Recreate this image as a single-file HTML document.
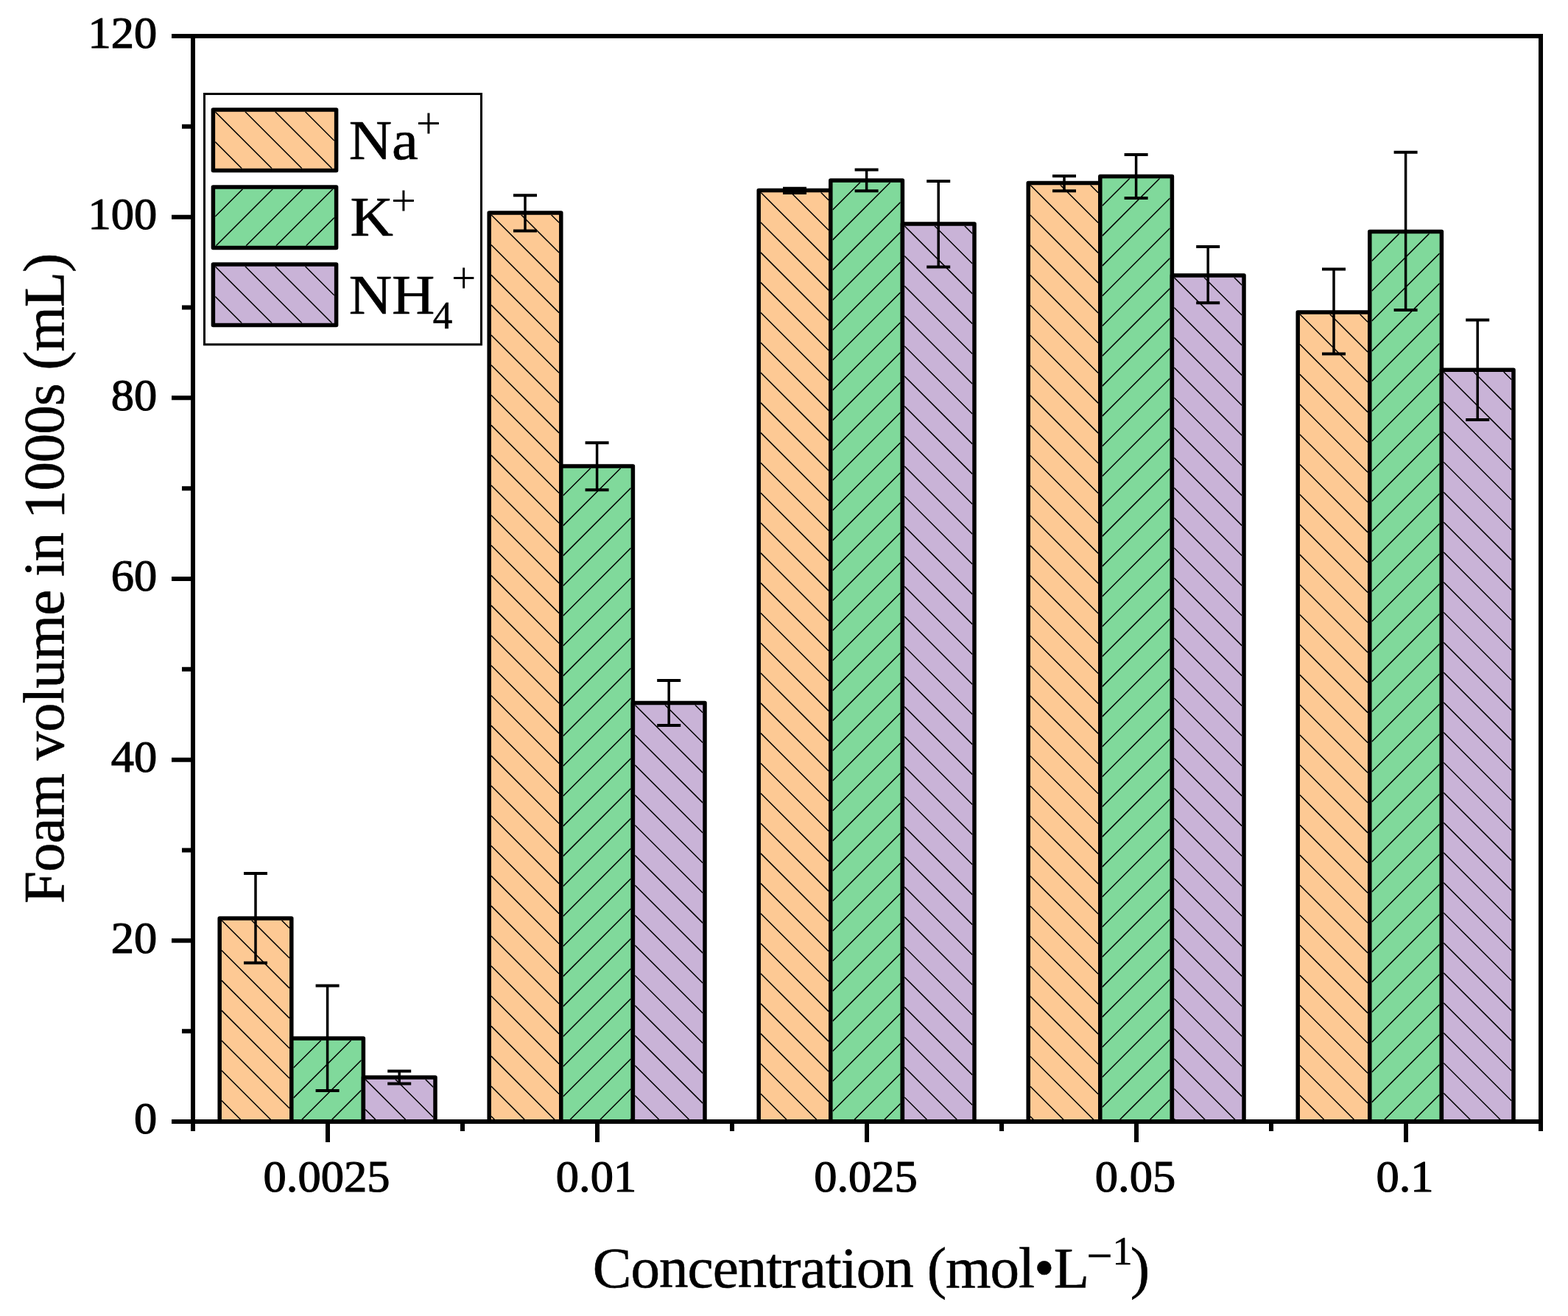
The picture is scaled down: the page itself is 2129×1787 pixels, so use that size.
<!DOCTYPE html>
<html><head><meta charset="utf-8"><title>Foam volume chart</title>
<style>html,body{margin:0;padding:0;background:#fff;overflow:hidden;width:2129px;height:1787px;}svg{display:block;}</style>
</head><body>
<svg width="2129" height="1787" viewBox="0 0 2129 1787">
<rect width="2129" height="1787" fill="#fff"/>
<rect x="298.20" y="1247.00" width="97.60" height="276.00" fill="#FDC994"/>
<clipPath id="c0"><rect x="300.95" y="1249.75" width="92.10" height="270.50"/></clipPath>
<path clip-path="url(#c0)" d="M300.95 1494.55L326.65 1520.25 M300.95 1453.75L367.45 1520.25 M300.95 1412.95L393.05 1505.05 M300.95 1372.15L393.05 1464.25 M300.95 1331.35L393.05 1423.45 M300.95 1290.55L393.05 1382.65 M300.95 1249.75L393.05 1341.85 M341.75 1249.75L393.05 1301.05 M382.55 1249.75L393.05 1260.25" stroke="#000" stroke-width="1.5" fill="none"/>
<rect x="298.20" y="1247.00" width="97.60" height="276.00" fill="none" stroke="#000" stroke-width="5.5" stroke-linejoin="round"/>
<rect x="395.80" y="1410.00" width="97.60" height="113.00" fill="#80D99B"/>
<clipPath id="c1"><rect x="398.55" y="1412.75" width="92.10" height="107.50"/></clipPath>
<path clip-path="url(#c1)" d="M435.85 1412.75L398.55 1450.05 M476.65 1412.75L398.55 1490.85 M490.65 1439.55L409.95 1520.25 M490.65 1480.35L450.75 1520.25" stroke="#000" stroke-width="1.5" fill="none"/>
<rect x="395.80" y="1410.00" width="97.60" height="113.00" fill="none" stroke="#000" stroke-width="5.5" stroke-linejoin="round"/>
<rect x="493.40" y="1463.00" width="97.60" height="60.00" fill="#C9B3D7"/>
<clipPath id="c2"><rect x="496.15" y="1465.75" width="92.10" height="54.50"/></clipPath>
<path clip-path="url(#c2)" d="M496.15 1506.55L509.85 1520.25 M496.15 1465.75L550.65 1520.25 M536.95 1465.75L588.25 1517.05 M577.75 1465.75L588.25 1476.25" stroke="#000" stroke-width="1.5" fill="none"/>
<rect x="493.40" y="1463.00" width="97.60" height="60.00" fill="none" stroke="#000" stroke-width="5.5" stroke-linejoin="round"/>
<rect x="664.20" y="289.00" width="97.60" height="1234.00" fill="#FDC994"/>
<clipPath id="c3"><rect x="666.95" y="291.75" width="92.10" height="1228.50"/></clipPath>
<path clip-path="url(#c3)" d="M666.95 1515.75L671.45 1520.25 M666.95 1474.95L712.25 1520.25 M666.95 1434.15L753.05 1520.25 M666.95 1393.35L759.05 1485.45 M666.95 1352.55L759.05 1444.65 M666.95 1311.75L759.05 1403.85 M666.95 1270.95L759.05 1363.05 M666.95 1230.15L759.05 1322.25 M666.95 1189.35L759.05 1281.45 M666.95 1148.55L759.05 1240.65 M666.95 1107.75L759.05 1199.85 M666.95 1066.95L759.05 1159.05 M666.95 1026.15L759.05 1118.25 M666.95 985.35L759.05 1077.45 M666.95 944.55L759.05 1036.65 M666.95 903.75L759.05 995.85 M666.95 862.95L759.05 955.05 M666.95 822.15L759.05 914.25 M666.95 781.35L759.05 873.45 M666.95 740.55L759.05 832.65 M666.95 699.75L759.05 791.85 M666.95 658.95L759.05 751.05 M666.95 618.15L759.05 710.25 M666.95 577.35L759.05 669.45 M666.95 536.55L759.05 628.65 M666.95 495.75L759.05 587.85 M666.95 454.95L759.05 547.05 M666.95 414.15L759.05 506.25 M666.95 373.35L759.05 465.45 M666.95 332.55L759.05 424.65 M666.95 291.75L759.05 383.85 M707.75 291.75L759.05 343.05 M748.55 291.75L759.05 302.25" stroke="#000" stroke-width="1.5" fill="none"/>
<rect x="664.20" y="289.00" width="97.60" height="1234.00" fill="none" stroke="#000" stroke-width="5.5" stroke-linejoin="round"/>
<rect x="761.80" y="633.00" width="97.60" height="890.00" fill="#80D99B"/>
<clipPath id="c4"><rect x="764.55" y="635.75" width="92.10" height="884.50"/></clipPath>
<path clip-path="url(#c4)" d="M801.85 635.75L764.55 673.05 M842.65 635.75L764.55 713.85 M856.65 662.55L764.55 754.65 M856.65 703.35L764.55 795.45 M856.65 744.15L764.55 836.25 M856.65 784.95L764.55 877.05 M856.65 825.75L764.55 917.85 M856.65 866.55L764.55 958.65 M856.65 907.35L764.55 999.45 M856.65 948.15L764.55 1040.25 M856.65 988.95L764.55 1081.05 M856.65 1029.75L764.55 1121.85 M856.65 1070.55L764.55 1162.65 M856.65 1111.35L764.55 1203.45 M856.65 1152.15L764.55 1244.25 M856.65 1192.95L764.55 1285.05 M856.65 1233.75L764.55 1325.85 M856.65 1274.55L764.55 1366.65 M856.65 1315.35L764.55 1407.45 M856.65 1356.15L764.55 1448.25 M856.65 1396.95L764.55 1489.05 M856.65 1437.75L774.15 1520.25 M856.65 1478.55L814.95 1520.25 M856.65 1519.35L855.75 1520.25" stroke="#000" stroke-width="1.5" fill="none"/>
<rect x="761.80" y="633.00" width="97.60" height="890.00" fill="none" stroke="#000" stroke-width="5.5" stroke-linejoin="round"/>
<rect x="859.40" y="954.50" width="97.60" height="568.50" fill="#C9B3D7"/>
<clipPath id="c5"><rect x="862.15" y="957.25" width="92.10" height="563.00"/></clipPath>
<path clip-path="url(#c5)" d="M862.15 1487.65L894.75 1520.25 M862.15 1446.85L935.55 1520.25 M862.15 1406.05L954.25 1498.15 M862.15 1365.25L954.25 1457.35 M862.15 1324.45L954.25 1416.55 M862.15 1283.65L954.25 1375.75 M862.15 1242.85L954.25 1334.95 M862.15 1202.05L954.25 1294.15 M862.15 1161.25L954.25 1253.35 M862.15 1120.45L954.25 1212.55 M862.15 1079.65L954.25 1171.75 M862.15 1038.85L954.25 1130.95 M862.15 998.05L954.25 1090.15 M862.15 957.25L954.25 1049.35 M902.95 957.25L954.25 1008.55 M943.75 957.25L954.25 967.75" stroke="#000" stroke-width="1.5" fill="none"/>
<rect x="859.40" y="954.50" width="97.60" height="568.50" fill="none" stroke="#000" stroke-width="5.5" stroke-linejoin="round"/>
<rect x="1030.20" y="258.50" width="97.60" height="1264.50" fill="#FDC994"/>
<clipPath id="c6"><rect x="1032.95" y="261.25" width="92.10" height="1259.00"/></clipPath>
<path clip-path="url(#c6)" d="M1032.95 1485.25L1067.95 1520.25 M1032.95 1444.45L1108.75 1520.25 M1032.95 1403.65L1125.05 1495.75 M1032.95 1362.85L1125.05 1454.95 M1032.95 1322.05L1125.05 1414.15 M1032.95 1281.25L1125.05 1373.35 M1032.95 1240.45L1125.05 1332.55 M1032.95 1199.65L1125.05 1291.75 M1032.95 1158.85L1125.05 1250.95 M1032.95 1118.05L1125.05 1210.15 M1032.95 1077.25L1125.05 1169.35 M1032.95 1036.45L1125.05 1128.55 M1032.95 995.65L1125.05 1087.75 M1032.95 954.85L1125.05 1046.95 M1032.95 914.05L1125.05 1006.15 M1032.95 873.25L1125.05 965.35 M1032.95 832.45L1125.05 924.55 M1032.95 791.65L1125.05 883.75 M1032.95 750.85L1125.05 842.95 M1032.95 710.05L1125.05 802.15 M1032.95 669.25L1125.05 761.35 M1032.95 628.45L1125.05 720.55 M1032.95 587.65L1125.05 679.75 M1032.95 546.85L1125.05 638.95 M1032.95 506.05L1125.05 598.15 M1032.95 465.25L1125.05 557.35 M1032.95 424.45L1125.05 516.55 M1032.95 383.65L1125.05 475.75 M1032.95 342.85L1125.05 434.95 M1032.95 302.05L1125.05 394.15 M1032.95 261.25L1125.05 353.35 M1073.75 261.25L1125.05 312.55 M1114.55 261.25L1125.05 271.75" stroke="#000" stroke-width="1.5" fill="none"/>
<rect x="1030.20" y="258.50" width="97.60" height="1264.50" fill="none" stroke="#000" stroke-width="5.5" stroke-linejoin="round"/>
<rect x="1127.80" y="245.00" width="97.60" height="1278.00" fill="#80D99B"/>
<clipPath id="c7"><rect x="1130.55" y="247.75" width="92.10" height="1272.50"/></clipPath>
<path clip-path="url(#c7)" d="M1167.85 247.75L1130.55 285.05 M1208.65 247.75L1130.55 325.85 M1222.65 274.55L1130.55 366.65 M1222.65 315.35L1130.55 407.45 M1222.65 356.15L1130.55 448.25 M1222.65 396.95L1130.55 489.05 M1222.65 437.75L1130.55 529.85 M1222.65 478.55L1130.55 570.65 M1222.65 519.35L1130.55 611.45 M1222.65 560.15L1130.55 652.25 M1222.65 600.95L1130.55 693.05 M1222.65 641.75L1130.55 733.85 M1222.65 682.55L1130.55 774.65 M1222.65 723.35L1130.55 815.45 M1222.65 764.15L1130.55 856.25 M1222.65 804.95L1130.55 897.05 M1222.65 845.75L1130.55 937.85 M1222.65 886.55L1130.55 978.65 M1222.65 927.35L1130.55 1019.45 M1222.65 968.15L1130.55 1060.25 M1222.65 1008.95L1130.55 1101.05 M1222.65 1049.75L1130.55 1141.85 M1222.65 1090.55L1130.55 1182.65 M1222.65 1131.35L1130.55 1223.45 M1222.65 1172.15L1130.55 1264.25 M1222.65 1212.95L1130.55 1305.05 M1222.65 1253.75L1130.55 1345.85 M1222.65 1294.55L1130.55 1386.65 M1222.65 1335.35L1130.55 1427.45 M1222.65 1376.15L1130.55 1468.25 M1222.65 1416.95L1130.55 1509.05 M1222.65 1457.75L1160.15 1520.25 M1222.65 1498.55L1200.95 1520.25" stroke="#000" stroke-width="1.5" fill="none"/>
<rect x="1127.80" y="245.00" width="97.60" height="1278.00" fill="none" stroke="#000" stroke-width="5.5" stroke-linejoin="round"/>
<rect x="1225.40" y="304.00" width="97.60" height="1219.00" fill="#C9B3D7"/>
<clipPath id="c8"><rect x="1228.15" y="306.75" width="92.10" height="1213.50"/></clipPath>
<path clip-path="url(#c8)" d="M1228.15 1489.95L1258.45 1520.25 M1228.15 1449.15L1299.25 1520.25 M1228.15 1408.35L1320.25 1500.45 M1228.15 1367.55L1320.25 1459.65 M1228.15 1326.75L1320.25 1418.85 M1228.15 1285.95L1320.25 1378.05 M1228.15 1245.15L1320.25 1337.25 M1228.15 1204.35L1320.25 1296.45 M1228.15 1163.55L1320.25 1255.65 M1228.15 1122.75L1320.25 1214.85 M1228.15 1081.95L1320.25 1174.05 M1228.15 1041.15L1320.25 1133.25 M1228.15 1000.35L1320.25 1092.45 M1228.15 959.55L1320.25 1051.65 M1228.15 918.75L1320.25 1010.85 M1228.15 877.95L1320.25 970.05 M1228.15 837.15L1320.25 929.25 M1228.15 796.35L1320.25 888.45 M1228.15 755.55L1320.25 847.65 M1228.15 714.75L1320.25 806.85 M1228.15 673.95L1320.25 766.05 M1228.15 633.15L1320.25 725.25 M1228.15 592.35L1320.25 684.45 M1228.15 551.55L1320.25 643.65 M1228.15 510.75L1320.25 602.85 M1228.15 469.95L1320.25 562.05 M1228.15 429.15L1320.25 521.25 M1228.15 388.35L1320.25 480.45 M1228.15 347.55L1320.25 439.65 M1228.15 306.75L1320.25 398.85 M1268.95 306.75L1320.25 358.05 M1309.75 306.75L1320.25 317.25" stroke="#000" stroke-width="1.5" fill="none"/>
<rect x="1225.40" y="304.00" width="97.60" height="1219.00" fill="none" stroke="#000" stroke-width="5.5" stroke-linejoin="round"/>
<rect x="1396.20" y="248.50" width="97.60" height="1274.50" fill="#FDC994"/>
<clipPath id="c9"><rect x="1398.95" y="251.25" width="92.10" height="1269.00"/></clipPath>
<path clip-path="url(#c9)" d="M1398.95 1516.05L1403.15 1520.25 M1398.95 1475.25L1443.95 1520.25 M1398.95 1434.45L1484.75 1520.25 M1398.95 1393.65L1491.05 1485.75 M1398.95 1352.85L1491.05 1444.95 M1398.95 1312.05L1491.05 1404.15 M1398.95 1271.25L1491.05 1363.35 M1398.95 1230.45L1491.05 1322.55 M1398.95 1189.65L1491.05 1281.75 M1398.95 1148.85L1491.05 1240.95 M1398.95 1108.05L1491.05 1200.15 M1398.95 1067.25L1491.05 1159.35 M1398.95 1026.45L1491.05 1118.55 M1398.95 985.65L1491.05 1077.75 M1398.95 944.85L1491.05 1036.95 M1398.95 904.05L1491.05 996.15 M1398.95 863.25L1491.05 955.35 M1398.95 822.45L1491.05 914.55 M1398.95 781.65L1491.05 873.75 M1398.95 740.85L1491.05 832.95 M1398.95 700.05L1491.05 792.15 M1398.95 659.25L1491.05 751.35 M1398.95 618.45L1491.05 710.55 M1398.95 577.65L1491.05 669.75 M1398.95 536.85L1491.05 628.95 M1398.95 496.05L1491.05 588.15 M1398.95 455.25L1491.05 547.35 M1398.95 414.45L1491.05 506.55 M1398.95 373.65L1491.05 465.75 M1398.95 332.85L1491.05 424.95 M1398.95 292.05L1491.05 384.15 M1398.95 251.25L1491.05 343.35 M1439.75 251.25L1491.05 302.55 M1480.55 251.25L1491.05 261.75" stroke="#000" stroke-width="1.5" fill="none"/>
<rect x="1396.20" y="248.50" width="97.60" height="1274.50" fill="none" stroke="#000" stroke-width="5.5" stroke-linejoin="round"/>
<rect x="1493.80" y="239.50" width="97.60" height="1283.50" fill="#80D99B"/>
<clipPath id="c10"><rect x="1496.55" y="242.25" width="92.10" height="1278.00"/></clipPath>
<path clip-path="url(#c10)" d="M1533.85 242.25L1496.55 279.55 M1574.65 242.25L1496.55 320.35 M1588.65 269.05L1496.55 361.15 M1588.65 309.85L1496.55 401.95 M1588.65 350.65L1496.55 442.75 M1588.65 391.45L1496.55 483.55 M1588.65 432.25L1496.55 524.35 M1588.65 473.05L1496.55 565.15 M1588.65 513.85L1496.55 605.95 M1588.65 554.65L1496.55 646.75 M1588.65 595.45L1496.55 687.55 M1588.65 636.25L1496.55 728.35 M1588.65 677.05L1496.55 769.15 M1588.65 717.85L1496.55 809.95 M1588.65 758.65L1496.55 850.75 M1588.65 799.45L1496.55 891.55 M1588.65 840.25L1496.55 932.35 M1588.65 881.05L1496.55 973.15 M1588.65 921.85L1496.55 1013.95 M1588.65 962.65L1496.55 1054.75 M1588.65 1003.45L1496.55 1095.55 M1588.65 1044.25L1496.55 1136.35 M1588.65 1085.05L1496.55 1177.15 M1588.65 1125.85L1496.55 1217.95 M1588.65 1166.65L1496.55 1258.75 M1588.65 1207.45L1496.55 1299.55 M1588.65 1248.25L1496.55 1340.35 M1588.65 1289.05L1496.55 1381.15 M1588.65 1329.85L1496.55 1421.95 M1588.65 1370.65L1496.55 1462.75 M1588.65 1411.45L1496.55 1503.55 M1588.65 1452.25L1520.65 1520.25 M1588.65 1493.05L1561.45 1520.25" stroke="#000" stroke-width="1.5" fill="none"/>
<rect x="1493.80" y="239.50" width="97.60" height="1283.50" fill="none" stroke="#000" stroke-width="5.5" stroke-linejoin="round"/>
<rect x="1591.40" y="374.00" width="97.60" height="1149.00" fill="#C9B3D7"/>
<clipPath id="c11"><rect x="1594.15" y="376.75" width="92.10" height="1143.50"/></clipPath>
<path clip-path="url(#c11)" d="M1594.15 1519.15L1595.25 1520.25 M1594.15 1478.35L1636.05 1520.25 M1594.15 1437.55L1676.85 1520.25 M1594.15 1396.75L1686.25 1488.85 M1594.15 1355.95L1686.25 1448.05 M1594.15 1315.15L1686.25 1407.25 M1594.15 1274.35L1686.25 1366.45 M1594.15 1233.55L1686.25 1325.65 M1594.15 1192.75L1686.25 1284.85 M1594.15 1151.95L1686.25 1244.05 M1594.15 1111.15L1686.25 1203.25 M1594.15 1070.35L1686.25 1162.45 M1594.15 1029.55L1686.25 1121.65 M1594.15 988.75L1686.25 1080.85 M1594.15 947.95L1686.25 1040.05 M1594.15 907.15L1686.25 999.25 M1594.15 866.35L1686.25 958.45 M1594.15 825.55L1686.25 917.65 M1594.15 784.75L1686.25 876.85 M1594.15 743.95L1686.25 836.05 M1594.15 703.15L1686.25 795.25 M1594.15 662.35L1686.25 754.45 M1594.15 621.55L1686.25 713.65 M1594.15 580.75L1686.25 672.85 M1594.15 539.95L1686.25 632.05 M1594.15 499.15L1686.25 591.25 M1594.15 458.35L1686.25 550.45 M1594.15 417.55L1686.25 509.65 M1594.15 376.75L1686.25 468.85 M1634.95 376.75L1686.25 428.05 M1675.75 376.75L1686.25 387.25" stroke="#000" stroke-width="1.5" fill="none"/>
<rect x="1591.40" y="374.00" width="97.60" height="1149.00" fill="none" stroke="#000" stroke-width="5.5" stroke-linejoin="round"/>
<rect x="1762.20" y="424.00" width="97.60" height="1099.00" fill="#FDC994"/>
<clipPath id="c12"><rect x="1764.95" y="426.75" width="92.10" height="1093.50"/></clipPath>
<path clip-path="url(#c12)" d="M1764.95 1487.55L1797.65 1520.25 M1764.95 1446.75L1838.45 1520.25 M1764.95 1405.95L1857.05 1498.05 M1764.95 1365.15L1857.05 1457.25 M1764.95 1324.35L1857.05 1416.45 M1764.95 1283.55L1857.05 1375.65 M1764.95 1242.75L1857.05 1334.85 M1764.95 1201.95L1857.05 1294.05 M1764.95 1161.15L1857.05 1253.25 M1764.95 1120.35L1857.05 1212.45 M1764.95 1079.55L1857.05 1171.65 M1764.95 1038.75L1857.05 1130.85 M1764.95 997.95L1857.05 1090.05 M1764.95 957.15L1857.05 1049.25 M1764.95 916.35L1857.05 1008.45 M1764.95 875.55L1857.05 967.65 M1764.95 834.75L1857.05 926.85 M1764.95 793.95L1857.05 886.05 M1764.95 753.15L1857.05 845.25 M1764.95 712.35L1857.05 804.45 M1764.95 671.55L1857.05 763.65 M1764.95 630.75L1857.05 722.85 M1764.95 589.95L1857.05 682.05 M1764.95 549.15L1857.05 641.25 M1764.95 508.35L1857.05 600.45 M1764.95 467.55L1857.05 559.65 M1764.95 426.75L1857.05 518.85 M1805.75 426.75L1857.05 478.05 M1846.55 426.75L1857.05 437.25" stroke="#000" stroke-width="1.5" fill="none"/>
<rect x="1762.20" y="424.00" width="97.60" height="1099.00" fill="none" stroke="#000" stroke-width="5.5" stroke-linejoin="round"/>
<rect x="1859.80" y="314.40" width="97.60" height="1208.60" fill="#80D99B"/>
<clipPath id="c13"><rect x="1862.55" y="317.15" width="92.10" height="1203.10"/></clipPath>
<path clip-path="url(#c13)" d="M1899.85 317.15L1862.55 354.45 M1940.65 317.15L1862.55 395.25 M1954.65 343.95L1862.55 436.05 M1954.65 384.75L1862.55 476.85 M1954.65 425.55L1862.55 517.65 M1954.65 466.35L1862.55 558.45 M1954.65 507.15L1862.55 599.25 M1954.65 547.95L1862.55 640.05 M1954.65 588.75L1862.55 680.85 M1954.65 629.55L1862.55 721.65 M1954.65 670.35L1862.55 762.45 M1954.65 711.15L1862.55 803.25 M1954.65 751.95L1862.55 844.05 M1954.65 792.75L1862.55 884.85 M1954.65 833.55L1862.55 925.65 M1954.65 874.35L1862.55 966.45 M1954.65 915.15L1862.55 1007.25 M1954.65 955.95L1862.55 1048.05 M1954.65 996.75L1862.55 1088.85 M1954.65 1037.55L1862.55 1129.65 M1954.65 1078.35L1862.55 1170.45 M1954.65 1119.15L1862.55 1211.25 M1954.65 1159.95L1862.55 1252.05 M1954.65 1200.75L1862.55 1292.85 M1954.65 1241.55L1862.55 1333.65 M1954.65 1282.35L1862.55 1374.45 M1954.65 1323.15L1862.55 1415.25 M1954.65 1363.95L1862.55 1456.05 M1954.65 1404.75L1862.55 1496.85 M1954.65 1445.55L1879.95 1520.25 M1954.65 1486.35L1920.75 1520.25" stroke="#000" stroke-width="1.5" fill="none"/>
<rect x="1859.80" y="314.40" width="97.60" height="1208.60" fill="none" stroke="#000" stroke-width="5.5" stroke-linejoin="round"/>
<rect x="1957.40" y="502.30" width="97.60" height="1020.70" fill="#C9B3D7"/>
<clipPath id="c14"><rect x="1960.15" y="505.05" width="92.10" height="1015.20"/></clipPath>
<path clip-path="url(#c14)" d="M1960.15 1484.25L1996.15 1520.25 M1960.15 1443.45L2036.95 1520.25 M1960.15 1402.65L2052.25 1494.75 M1960.15 1361.85L2052.25 1453.95 M1960.15 1321.05L2052.25 1413.15 M1960.15 1280.25L2052.25 1372.35 M1960.15 1239.45L2052.25 1331.55 M1960.15 1198.65L2052.25 1290.75 M1960.15 1157.85L2052.25 1249.95 M1960.15 1117.05L2052.25 1209.15 M1960.15 1076.25L2052.25 1168.35 M1960.15 1035.45L2052.25 1127.55 M1960.15 994.65L2052.25 1086.75 M1960.15 953.85L2052.25 1045.95 M1960.15 913.05L2052.25 1005.15 M1960.15 872.25L2052.25 964.35 M1960.15 831.45L2052.25 923.55 M1960.15 790.65L2052.25 882.75 M1960.15 749.85L2052.25 841.95 M1960.15 709.05L2052.25 801.15 M1960.15 668.25L2052.25 760.35 M1960.15 627.45L2052.25 719.55 M1960.15 586.65L2052.25 678.75 M1960.15 545.85L2052.25 637.95 M1960.15 505.05L2052.25 597.15 M2000.95 505.05L2052.25 556.35 M2041.75 505.05L2052.25 515.55" stroke="#000" stroke-width="1.5" fill="none"/>
<rect x="1957.40" y="502.30" width="97.60" height="1020.70" fill="none" stroke="#000" stroke-width="5.5" stroke-linejoin="round"/>
<path d="M347.00 1186.00V1307.50" stroke="#000" stroke-width="3.5"/>
<path d="M331.00 1186.00H363.00M331.00 1307.50H363.00" stroke="#000" stroke-width="4.0"/>
<path d="M444.60 1338.50V1481.00" stroke="#000" stroke-width="3.5"/>
<path d="M428.60 1338.50H460.60M428.60 1481.00H460.60" stroke="#000" stroke-width="4.0"/>
<path d="M542.20 1454.50V1471.50" stroke="#000" stroke-width="3.5"/>
<path d="M526.20 1454.50H558.20M526.20 1471.50H558.20" stroke="#000" stroke-width="4.0"/>
<path d="M713.00 265.30V313.60" stroke="#000" stroke-width="3.5"/>
<path d="M697.00 265.30H729.00M697.00 313.60H729.00" stroke="#000" stroke-width="4.0"/>
<path d="M810.60 601.30V665.30" stroke="#000" stroke-width="3.5"/>
<path d="M794.60 601.30H826.60M794.60 665.30H826.60" stroke="#000" stroke-width="4.0"/>
<path d="M908.20 924.00V985.00" stroke="#000" stroke-width="3.5"/>
<path d="M892.20 924.00H924.20M892.20 985.00H924.20" stroke="#000" stroke-width="4.0"/>
<path d="M1079.00 255.80V261.90" stroke="#000" stroke-width="3.5"/>
<path d="M1063.00 255.80H1095.00M1063.00 261.90H1095.00" stroke="#000" stroke-width="4.0"/>
<path d="M1176.60 230.40V259.30" stroke="#000" stroke-width="3.5"/>
<path d="M1160.60 230.40H1192.60M1160.60 259.30H1192.60" stroke="#000" stroke-width="4.0"/>
<path d="M1274.20 245.90V362.50" stroke="#000" stroke-width="3.5"/>
<path d="M1258.20 245.90H1290.20M1258.20 362.50H1290.20" stroke="#000" stroke-width="4.0"/>
<path d="M1445.00 239.00V259.20" stroke="#000" stroke-width="3.5"/>
<path d="M1429.00 239.00H1461.00M1429.00 259.20H1461.00" stroke="#000" stroke-width="4.0"/>
<path d="M1542.60 210.00V269.10" stroke="#000" stroke-width="3.5"/>
<path d="M1526.60 210.00H1558.60M1526.60 269.10H1558.60" stroke="#000" stroke-width="4.0"/>
<path d="M1640.20 335.00V411.20" stroke="#000" stroke-width="3.5"/>
<path d="M1624.20 335.00H1656.20M1624.20 411.20H1656.20" stroke="#000" stroke-width="4.0"/>
<path d="M1811.00 365.40V480.40" stroke="#000" stroke-width="3.5"/>
<path d="M1795.00 365.40H1827.00M1795.00 480.40H1827.00" stroke="#000" stroke-width="4.0"/>
<path d="M1908.60 206.80V421.00" stroke="#000" stroke-width="3.5"/>
<path d="M1892.60 206.80H1924.60M1892.60 421.00H1924.60" stroke="#000" stroke-width="4.0"/>
<path d="M2006.20 434.40V570.00" stroke="#000" stroke-width="3.5"/>
<path d="M1990.20 434.40H2022.20M1990.20 570.00H2022.20" stroke="#000" stroke-width="4.0"/>
<rect x="262.0" y="49.0" width="1830.0" height="1474.0" fill="none" stroke="#000" stroke-width="6.0" stroke-linejoin="miter" stroke-linecap="square"/>
<path d="M233 1523.00H262.0 M247 1400.17H262.0 M233 1277.33H262.0 M247 1154.50H262.0 M233 1031.67H262.0 M247 908.83H262.0 M233 786.00H262.0 M247 663.17H262.0 M233 540.33H262.0 M247 417.50H262.0 M233 294.67H262.0 M247 171.83H262.0 M233 49.00H262.0" stroke="#000" stroke-width="6"/>
<path d="M262.00 1523.0V1536 M628.00 1523.0V1536 M994.00 1523.0V1536 M1360.00 1523.0V1536 M1726.00 1523.0V1536 M2092.00 1523.0V1536 M445.00 1523.0V1551 M811.00 1523.0V1551 M1177.00 1523.0V1551 M1543.00 1523.0V1551 M1909.00 1523.0V1551" stroke="#000" stroke-width="6"/>
<g font-family="Liberation Serif, serif" font-size="62.5" fill="#000" stroke="#000" stroke-width="1.2"><text transform="translate(213.2 1539.40) scale(1 0.965)" text-anchor="end">0</text><text transform="translate(213.2 1293.73) scale(1 0.965)" text-anchor="end">20</text><text transform="translate(213.2 1048.07) scale(1 0.965)" text-anchor="end">40</text><text transform="translate(213.2 802.40) scale(1 0.965)" text-anchor="end">60</text><text transform="translate(213.2 556.73) scale(1 0.965)" text-anchor="end">80</text><text transform="translate(213.2 311.07) scale(1 0.965)" text-anchor="end">100</text><text transform="translate(213.2 65.40) scale(1 0.965)" text-anchor="end">120</text><text transform="translate(443.50 1618.0) scale(1 0.965)" text-anchor="middle">0.0025</text><text transform="translate(809.50 1618.0) scale(1 0.965)" text-anchor="middle">0.01</text><text transform="translate(1175.50 1618.0) scale(1 0.965)" text-anchor="middle">0.025</text><text transform="translate(1541.50 1618.0) scale(1 0.965)" text-anchor="middle">0.05</text><text transform="translate(1907.50 1618.0) scale(1 0.965)" text-anchor="middle">0.1</text></g>
<rect x="277.5" y="127.5" width="376" height="340.3" fill="#fff" stroke="#000" stroke-width="3"/>
<rect x="289.40" y="149.00" width="167.20" height="82.50" fill="#FDC994"/>
<clipPath id="lc0"><rect x="292.15" y="151.75" width="161.70" height="77.00"/></clipPath>
<path clip-path="url(#lc0)" d="M292.15 192.55L328.35 228.75 M292.15 151.75L369.15 228.75 M332.95 151.75L409.95 228.75 M373.75 151.75L450.75 228.75 M414.55 151.75L453.85 191.05" stroke="#000" stroke-width="1.5" fill="none"/>
<rect x="289.40" y="149.00" width="167.20" height="82.50" fill="none" stroke="#000" stroke-width="5.5" stroke-linejoin="round"/>
<rect x="289.40" y="254.00" width="167.20" height="82.50" fill="#80D99B"/>
<clipPath id="lc1"><rect x="292.15" y="256.75" width="161.70" height="77.00"/></clipPath>
<path clip-path="url(#lc1)" d="M329.45 256.75L292.15 294.05 M370.25 256.75L293.25 333.75 M411.05 256.75L334.05 333.75 M451.85 256.75L374.85 333.75 M453.85 295.55L415.65 333.75" stroke="#000" stroke-width="1.5" fill="none"/>
<rect x="289.40" y="254.00" width="167.20" height="82.50" fill="none" stroke="#000" stroke-width="5.5" stroke-linejoin="round"/>
<rect x="289.40" y="359.00" width="167.20" height="82.50" fill="#C9B3D7"/>
<clipPath id="lc2"><rect x="292.15" y="361.75" width="161.70" height="77.00"/></clipPath>
<path clip-path="url(#lc2)" d="M292.15 402.55L328.35 438.75 M292.15 361.75L369.15 438.75 M332.95 361.75L409.95 438.75 M373.75 361.75L450.75 438.75 M414.55 361.75L453.85 401.05" stroke="#000" stroke-width="1.5" fill="none"/>
<rect x="289.40" y="359.00" width="167.20" height="82.50" fill="none" stroke="#000" stroke-width="5.5" stroke-linejoin="round"/>
<g font-family="Liberation Serif, serif" fill="#000" stroke="#000" stroke-width="0.6"><text transform="translate(473.6708251953125 216.2) scale(1.05 1)" font-size="77">Na</text><text x="564.9" y="186.8" font-size="60" stroke-width="0">+</text><text transform="translate(475.57082519531247 320) scale(1.05 1)" font-size="77">K</text><text x="530.9" y="291.8" font-size="60" stroke-width="0">+</text><text transform="translate(473.6708251953125 425.7) scale(1.05 1)" font-size="77">NH</text><text x="587.8" y="445.7" font-size="53">4</text><text x="613" y="396.9" font-size="59" stroke-width="0">+</text></g>
<text font-family="Liberation Serif, serif" font-size="79" letter-spacing="-1.05" fill="#000" stroke="#000" stroke-width="0.6" transform="translate(86.0 1226.9) rotate(-90)">Foam volume in 1000s (mL)</text>
<g font-family="Liberation Serif, serif" font-size="79" fill="#000" stroke="#000" stroke-width="0.6"><text x="804.7" y="1748" letter-spacing="-0.95">Concentration (mol•L</text><text x="1475.5" y="1725.6" font-size="62">−</text><text x="1510.4" y="1717.4" font-size="54">1</text><text x="1534.7" y="1748">)</text></g>
</svg>
</body></html>
